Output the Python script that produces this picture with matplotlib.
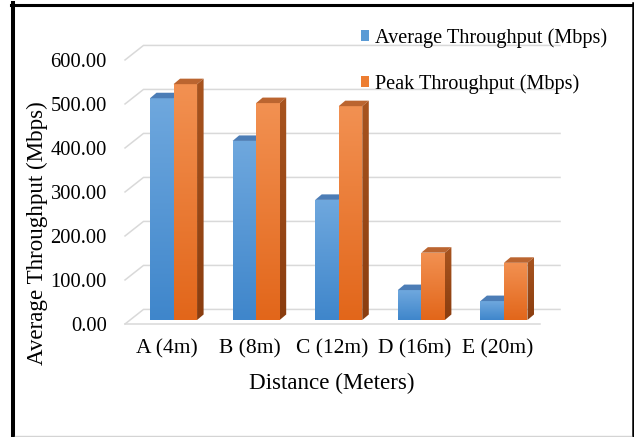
import numpy as np
import matplotlib
matplotlib.use("Agg")
import matplotlib.pyplot as plt
from matplotlib.patches import Polygon, Patch
from matplotlib.colors import LinearSegmentedColormap
from matplotlib.lines import Line2D

# ---- data ----
categories = ["A (4m)", "B (8m)", "C (12m)", "D (16m)", "E (20m)"]
avg_throughput = [504, 407, 273, 68, 43]
peak_throughput = [536, 493, 486, 153, 130]
series_names = ["Average Throughput (Mbps)", "Peak Throughput (Mbps)"]
y_ticks = [0, 100, 200, 300, 400, 500, 600]

plt.rcParams["font.family"] = ["Liberation Serif", "DejaVu Serif"]

W, H = 634, 437
fig = plt.figure(figsize=(W / 100, H / 100), dpi=100)
fig.patch.set_facecolor("white")


def fx(px):
    return px / W


def fy(py):
    return 1 - py / H


# plot area (pixel box) and its data scale
ax_l, ax_r, ax_t, ax_b = 115, 575, 30, 335
px_per_cat, px_per_val = 82.6, 0.44
x0_px, y0_px = 167, 320
ax = fig.add_axes([fx(ax_l), fy(ax_b), (ax_r - ax_l) / W, (ax_b - ax_t) / H])
ax.set_facecolor("none")
for s in ax.spines.values():
    s.set_visible(False)

# pseudo-3D box geometry (front / back wall)
front_dy, back_dy = -9, 24
front_left, back_left = -0.508, -0.285
front_right, back_right = 4.516, 4.758
grid_c = "#d9d9d9"

for v in y_ticks:
    ax.plot([front_left, back_left, back_right],
            [v + front_dy, v + back_dy, v + back_dy],
            color=grid_c, lw=1.1, zorder=1, solid_joinstyle="miter")
ax.plot([front_left, front_right], [front_dy, front_dy], color=grid_c, lw=1.1, zorder=1)

# bars
bw = 0.285
shift = 0.079
sdx, sdy = 0.079, 12.5
x = np.arange(len(categories))

styles = [
    dict(base="#5b9bd5", front=("#6fa8de", "#3f86cb"),
         top="#4c7db6", side=("#3b6ea8", "#2f5f94")),
    dict(base="#ed7d31", front=("#f29152", "#e2661a"),
         top="#bb6530", side=("#a8541f", "#8a3d0f")),
]


def grad_face(xy, c_top, c_bot, z):
    poly = Polygon(xy, closed=True, facecolor="none", edgecolor="none", zorder=z)
    ax.add_patch(poly)
    xs = [p[0] for p in xy]
    ys = [p[1] for p in xy]
    cmap = LinearSegmentedColormap.from_list("g", [c_bot, c_top])
    g = np.linspace(0, 1, 256).reshape(-1, 1)
    im = ax.imshow(g, cmap=cmap, extent=(min(xs), max(xs), min(ys), max(ys)),
                   origin="lower", aspect="auto", zorder=z, interpolation="bilinear")
    im.set_clip_path(poly)


z = 3
for i in range(len(categories)):
    for k, vals in enumerate([avg_throughput, peak_throughput]):
        st = styles[k]
        left = x[i] + shift - bw + k * bw
        v = vals[i]
        ax.bar(left, v, width=bw, align="edge", color=st["base"],
               edgecolor="none", zorder=z)
        grad_face([(left, 0), (left + bw, 0), (left + bw, v), (left, v)],
                  st["front"][0], st["front"][1], z + 0.1)
        # top face
        ax.add_patch(Polygon([(left, v), (left + bw, v), (left + bw + sdx, v + sdy),
                              (left + sdx, v + sdy)], closed=True,
                             facecolor=st["top"], edgecolor="none", zorder=z + 0.2))
        # side face
        grad_face([(left + bw, 0), (left + bw + sdx, sdy), (left + bw + sdx, v + sdy),
                   (left + bw, v)], st["side"][0], st["side"][1], z + 0.2)
        z += 1

ax.set_xlim((ax_l - x0_px) / px_per_cat, (ax_r - x0_px) / px_per_cat)
ax.set_ylim((y0_px - ax_b) / px_per_val, (y0_px - ax_t) / px_per_val)

# ticks
ax.set_xticks(x, categories, fontsize=15.5)
ax.set_yticks([v + front_dy for v in y_ticks], [f"{v:.2f}" for v in y_ticks],
              fontsize=14.8)
ax.tick_params(axis="x", length=0, pad=3, colors="#000000")
ax.tick_params(axis="y", length=0, pad=5.8, colors="#000000")

# axis titles
ax.set_ylabel("Average Throughput (Mbps)", fontsize=16.6, va="center")
ax.yaxis.set_label_coords((37 - ax_l) / (ax_r - ax_l), (ax_b - 233) / (ax_b - ax_t))
ax.set_xlabel("Distance (Meters)", fontsize=16.6, va="center")
ax.xaxis.set_label_coords((331.6 - ax_l) / (ax_r - ax_l), (ax_b - 383) / (ax_b - ax_t))

# legend
handles = [Patch(facecolor=styles[0]["base"]), Patch(facecolor=styles[1]["base"])]
ax.legend(handles, series_names, loc="upper left",
          bbox_to_anchor=(fx(361), fy(28)), bbox_transform=fig.transFigure,
          frameon=False, fontsize=14.6, borderpad=0, borderaxespad=0,
          handlelength=0.4, handleheight=0.4, handletextpad=0.3, labelspacing=1.3)

# outer frame
fig.add_artist(Line2D([fx(13), fx(13)], [fy(3), fy(437)], color="black", lw=2.9,
                      transform=fig.transFigure))
fig.add_artist(Line2D([fx(11), fx(634)], [fy(4.5), fy(4.5)], color="black", lw=2.2,
                      transform=fig.transFigure))
fig.add_artist(Line2D([fx(632.5), fx(632.5)], [fy(3), fy(437)], color="black", lw=1.8,
                      transform=fig.transFigure))
fig.add_artist(Line2D([fx(15), fx(631)], [fy(436.3), fy(436.3)], color="#d4d4d4", lw=1.0,
                      transform=fig.transFigure))

fig.savefig("out.png", dpi=100, facecolor="white")
